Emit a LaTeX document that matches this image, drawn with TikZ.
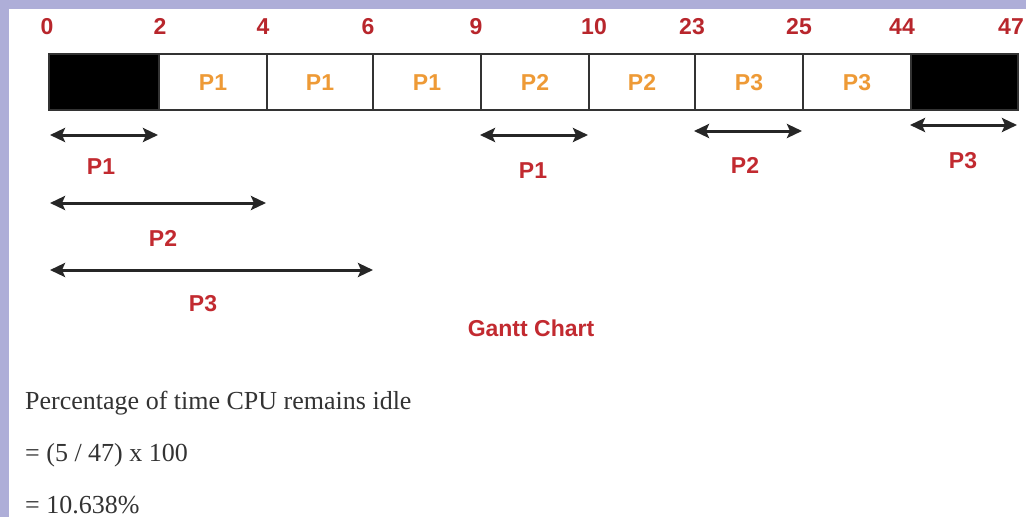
\documentclass[tikz,border=0pt]{standalone}
\usepackage{fontspec}
\setmainfont{Liberation Serif}
\newfontfamily\arialfont{Liberation Sans}
\usetikzlibrary{arrows.meta}
\definecolor{lav}{HTML}{AEAED8}
\definecolor{tickred}{HTML}{B8262C}
\definecolor{labred}{HTML}{C22A30}
\definecolor{cellor}{HTML}{EE9A36}
\definecolor{txtgray}{HTML}{333333}
\definecolor{barline}{HTML}{333333}
\newcommand{\sansbig}{\arialfont\bfseries\fontsize{23}{25}\selectfont}
\tikzset{
  cell/.style={draw=barline, line width=2pt, minimum height=56pt, inner sep=0pt, anchor=west,
    font=\sansbig, text=cellor, text height=16.5pt, text depth=0pt},
  idle/.style={cell, fill=black},
  ticklab/.style={font=\sansbig, text=tickred, inner sep=0pt, text height=16.5pt, text depth=0pt},
  arrlab/.style={font=\sansbig, text=labred, inner sep=0pt, text height=16.5pt, text depth=0pt},
  span/.style={draw=black!85, line width=3pt, {Stealth[length=15pt,width=14pt,inset=3pt]}-{Stealth[length=15pt,width=14pt,inset=3pt]}},
  calc/.style={font=\fontsize{26}{29}\selectfont, text=txtgray, inner sep=0pt, anchor=west}
}
\begin{document}
\begin{tikzpicture}[x=1pt,y=-1pt]
\useasboundingbox (0,0) rectangle (1026,517);
\fill[lav] (0,0) rectangle (1026,517);
\fill[white] (9,9) rectangle (1026,517);
% cells
\node[idle, minimum width=110pt] (c1) at (48,82) {};
\node[cell, minimum width=108pt] (c2) at (158,82) {P1};
\node[cell, minimum width=106pt] (c3) at (266,82) {P1};
\node[cell, minimum width=108pt] (c4) at (372,82) {P1};
\node[cell, minimum width=108pt] (c5) at (480,82) {P2};
\node[cell, minimum width=106pt] (c6) at (588,82) {P2};
\node[cell, minimum width=108pt] (c7) at (694,82) {P3};
\node[cell, minimum width=108pt] (c8) at (802,82) {P3};
\node[idle, minimum width=107pt] (c9) at (910,82) {};
% tick labels
\node[ticklab] (t0) at (47,26) {0};
\node[ticklab] (t2) at (160,26) {2};
\node[ticklab] (t4) at (263,26) {4};
\node[ticklab] (t6) at (368,26) {6};
\node[ticklab] (t9) at (476,26) {9};
\node[ticklab] (t10) at (594,26) {10};
\node[ticklab] (t23) at (692,26) {23};
\node[ticklab] (t25) at (799,26) {25};
\node[ticklab] (t44) at (902,26) {44};
\node[ticklab] (t47) at (1011,26) {47};
% arrow endpoints
\coordinate (a1s) at (50,135); \coordinate (a1e) at (158,135);
\coordinate (a2s) at (480,135); \coordinate (a2e) at (588,135);
\coordinate (a3s) at (694,131); \coordinate (a3e) at (802,131);
\coordinate (a4s) at (910,125); \coordinate (a4e) at (1017,125);
\coordinate (a5s) at (50,203); \coordinate (a5e) at (266,203);
\coordinate (a6s) at (50,270); \coordinate (a6e) at (373,270);
\draw[span] (a1s) -- (a1e);
\draw[span] (a2s) -- (a2e);
\draw[span] (a3s) -- (a3e);
\draw[span] (a4s) -- (a4e);
\draw[span] (a5s) -- (a5e);
\draw[span] (a6s) -- (a6e);
% arrow labels
\node[arrlab] (l1) at (101,166) {P1};
\node[arrlab] (l2) at (533,170) {P1};
\node[arrlab] (l3) at (745,165) {P2};
\node[arrlab] (l4) at (963,160) {P3};
\node[arrlab] (l5) at (163,238) {P2};
\node[arrlab] (l6) at (203,303) {P3};
\node[arrlab] (title) at (531,328) {Gantt Chart};
% calculation
\node[calc] (p1) at (25,403) {Percentage of time CPU remains idle};
\node[calc] (p2) at (25,455) {= (5 / 47) x 100};
\node[calc] (p3) at (25,505) {= 10.638\%};
\end{tikzpicture}
\end{document}
